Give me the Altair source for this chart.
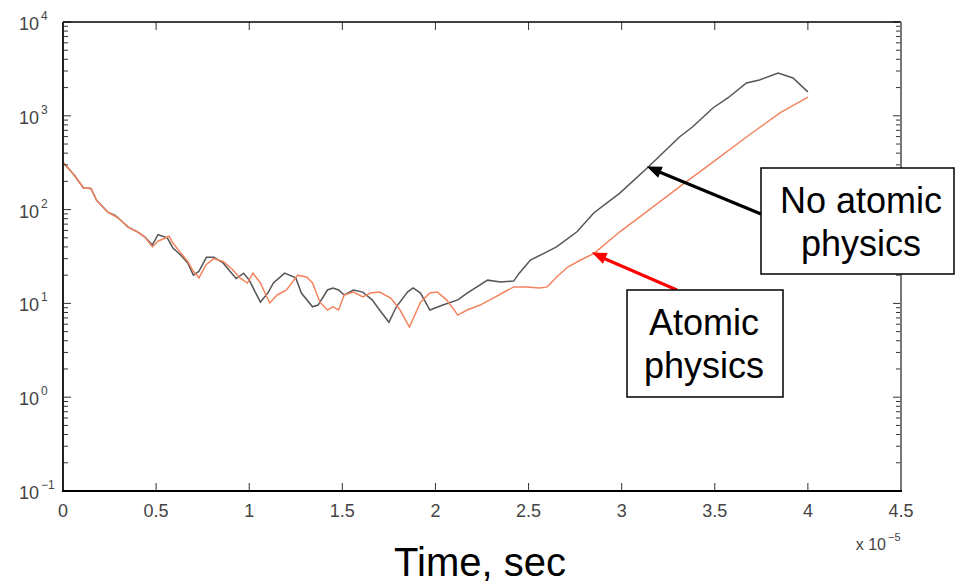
import altair as alt
import pandas as pd

# ---- data (time in units of 1e-5 s) ----
t_no_atomic = [0.00, 0.06, 0.11, 0.15, 0.18, 0.24, 0.28, 0.31, 0.35, 0.40, 0.44, 0.48, 0.51, 0.56,
               0.59, 0.63, 0.67, 0.70, 0.73, 0.77, 0.81, 0.86, 0.90, 0.93, 0.97, 1.00, 1.06, 1.10,
               1.13, 1.19, 1.25, 1.28, 1.34, 1.37, 1.42, 1.45, 1.48, 1.51, 1.56, 1.61, 1.66, 1.70,
               1.75, 1.79, 1.85, 1.88, 1.92, 1.97, 2.04, 2.12, 2.17, 2.28, 2.35, 2.42, 2.45, 2.51,
               2.58, 2.65, 2.76, 2.85, 2.99, 3.14, 3.31, 3.38, 3.49, 3.57, 3.67, 3.74, 3.84, 3.92, 4.00]
v_no_atomic = [320, 234, 170, 168, 126, 94, 87, 77, 65, 58, 51, 42, 54, 50,
               39, 33, 27, 20, 22, 31, 31, 27, 21.6, 18.4, 21, 17.7, 10.3, 12.9,
               16.5, 21, 18.7, 12.9, 9.2, 9.6, 13.9, 14.6, 13.9, 12.3, 13.9, 13.2, 10.9, 8.5,
               6.3, 9.2, 13.2, 14.6, 12.9, 8.5, 9.6, 10.9, 12.9, 17.7, 16.9, 17.3, 21, 29,
               34, 40, 58, 92, 150, 281, 594, 760, 1211, 1549, 2238, 2409, 2860, 2531, 1800]

t_atomic = [0.00, 0.06, 0.11, 0.15, 0.18, 0.24, 0.28, 0.31, 0.35, 0.40, 0.44, 0.48, 0.51, 0.57,
            0.59, 0.63, 0.67, 0.70, 0.73, 0.77, 0.81, 0.86, 0.91, 0.95, 0.99, 1.02, 1.06, 1.11,
            1.15, 1.20, 1.26, 1.31, 1.34, 1.38, 1.42, 1.45, 1.48, 1.51, 1.56, 1.61, 1.65, 1.70,
            1.76, 1.81, 1.86, 1.92, 1.97, 2.01, 2.06, 2.12, 2.17, 2.24, 2.31, 2.36, 2.42, 2.49,
            2.56, 2.60, 2.65, 2.71, 2.78, 2.85, 2.99, 3.14, 3.31, 3.49, 3.67, 3.85, 4.00]
v_atomic = [320, 234, 170, 168, 126, 94, 85, 77, 65, 58, 51, 40, 46, 52,
            44, 35, 28, 22, 18.7, 26, 30, 28, 23, 18.7, 16.5, 21, 16.5, 10.1,
            12.3, 13.9, 20, 19, 16.5, 10.3, 8.5, 9.2, 8.5, 12.3, 13.2, 11.7, 12.9, 13.2,
            11.4, 8.5, 5.6, 10.3, 12.9, 13.2, 10.9, 7.5, 8.5, 9.6, 11.4, 12.9, 15, 15,
            14.6, 15, 19, 24.4, 29, 34, 58, 97, 175, 321, 594, 1072, 1585]

series_names = ["No atomic physics", "Atomic physics"]
series_colors = ["#555555", "#f4845f"]

x_tick_values = [0, 0.5, 1, 1.5, 2, 2.5, 3, 3.5, 4, 4.5]
x_tick_labels = ["0", "0.5", "1", "1.5", "2", "2.5", "3", "3.5", "4", "4.5"]
y_major_values = [0.1, 1, 10, 100, 1000, 10000]
y_major_exponents = ["\u22121", "0", "1", "2", "3", "4"]
y_minor_values = [m * 10.0 ** e for e in range(-1, 4) for m in range(2, 10)]

W, H = 838, 469
FONT = "Liberation Sans"

df = pd.concat([
    pd.DataFrame({"t": t_no_atomic, "v": v_no_atomic, "s": series_names[0]}),
    pd.DataFrame({"t": t_atomic, "v": v_atomic, "s": series_names[1]}),
], ignore_index=True)

xs = alt.Scale(domain=[0, 4.5], nice=False, zero=False)
ys = alt.Scale(type="log", domain=[0.1, 10000], nice=False)

lines = alt.Chart(df).mark_line(strokeWidth=1.5).encode(
    x=alt.X("t:Q", scale=xs, axis=None),
    y=alt.Y("v:Q", scale=ys, axis=None),
    color=alt.Color("s:N", scale=alt.Scale(domain=series_names, range=series_colors), legend=None),
)

ymin_df = pd.DataFrame({"v": y_minor_values})
ymaj_df = pd.DataFrame({"v": y_major_values, "e": y_major_exponents})
xt_df = pd.DataFrame({"t": x_tick_values, "lab": x_tick_labels})


def yticks(data, x0, x1):
    return alt.Chart(data).mark_rule(color="#333", strokeWidth=1).encode(
        y=alt.Y("v:Q", scale=ys, axis=None), x=alt.value(x0), x2=alt.value(x1))


def xticks(y0, y1):
    return alt.Chart(xt_df).mark_rule(color="#333", strokeWidth=1).encode(
        x=alt.X("t:Q", scale=xs, axis=None), y=alt.value(y0), y2=alt.value(y1))


one = pd.DataFrame({"k": [0]})


def seg(x0, y0, x1, y1, color, width):
    return alt.Chart(one).mark_rule(color=color, strokeWidth=width).encode(
        x=alt.value(x0), y=alt.value(y0), x2=alt.value(x1), y2=alt.value(y1))


def box(x0, x1, y0, y1):
    return alt.Chart(one).mark_rect(fill="white", stroke="black", strokeWidth=1.5).encode(
        x=alt.value(x0), x2=alt.value(x1), y=alt.value(y0), y2=alt.value(y1))


def label(txt, x, y, size, color="black", align="center"):
    return alt.Chart(one).mark_text(align=align, baseline="alphabetic", fontSize=size,
                                    font=FONT, color=color).encode(
        x=alt.value(x), y=alt.value(y), text=alt.value(txt))


ARROW = "M0,-1.2L0.8,0.8L-0.8,0.8Z"


def head(x, y, angle, color):
    return alt.Chart(one).mark_point(shape=ARROW, size=169, angle=angle, filled=True,
                                     fill=color, stroke=color, strokeWidth=1, opacity=1).encode(
        x=alt.value(x), y=alt.value(y))


ylab = alt.Chart(ymaj_df).mark_text(align="right", baseline="alphabetic", dy=8, fontSize=18,
                                    font=FONT, color="#444").encode(
    y=alt.Y("v:Q", scale=ys, axis=None), x=alt.value(-24), text=alt.value("10"))
ysup = alt.Chart(ymaj_df).mark_text(align="left", baseline="alphabetic", dy=-2, fontSize=12,
                                    font=FONT, color="#444").encode(
    y=alt.Y("v:Q", scale=ys, axis=None), x=alt.value(-22), text="e:N")
xlab = alt.Chart(xt_df).mark_text(align="center", baseline="alphabetic", fontSize=18,
                                  font=FONT, color="#444").encode(
    x=alt.X("t:Q", scale=xs, axis=None), y=alt.value(H + 26), text="lab:N")

layers = [
    lines,
    yticks(ymin_df, 0, 5), yticks(ymaj_df, 0, 8),
    yticks(ymin_df, W, W - 5), yticks(ymaj_df, W, W - 8),
    xticks(H, H - 8), xticks(0, 8),
    seg(0, 0, W, 0, "#000", 1.5),
    seg(W, 0, W, H, "#777", 2),
    seg(0, 0, 0, H + 1, "#222", 2),
    seg(-1, H, W + 1, H, "#000", 2),
    ylab, ysup, xlab,
    label("x 10", 823, 528, 16, "#444", "right"),
    label("\u22125", 825, 519, 11, "#444", "left"),
    label("Time, sec", 417, 554, 40),
    # annotation: No atomic physics
    seg(698, 192, 594, 149, "black", 3),
    head(592.2, 148.0, 292.6, "black"),
    box(698, 891, 146, 252),
    label("No atomic", 798, 191, 36),
    label("physics", 798, 234, 36),
    # annotation: Atomic physics
    seg(614, 268, 540, 236, "#ff0000", 3),
    head(537.1, 234.1, 293.8, "#ff0000"),
    box(564, 720, 268, 375),
    label("Atomic", 641, 313, 36),
    label("physics", 641, 356, 36),
]

chart = alt.layer(*layers).properties(
    width=W, height=H,
    autosize=alt.AutoSizeParams(type="none"),
    padding={"left": 55, "top": 14, "right": 54, "bottom": 94},
    background="white",
).configure_view(stroke=None)

chart.save("out.html", embed_options={"renderer": "svg", "actions": False})
